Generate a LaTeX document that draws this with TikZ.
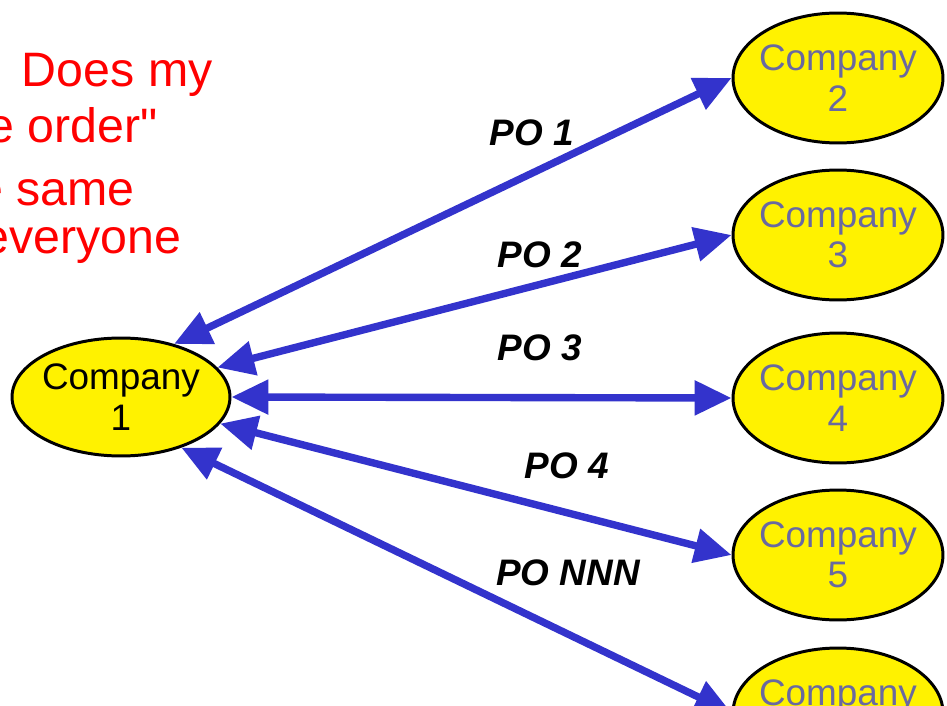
\documentclass[tikz,border=0pt]{standalone}
\usepackage{fontspec}
\setmainfont{Liberation Sans}[Ligatures=TeXOff]
\usetikzlibrary{shapes.geometric,arrows.meta}
\definecolor{poblue}{RGB}{51,51,204}
\definecolor{cotext}{RGB}{105,105,160}

\begin{document}
\begin{tikzpicture}[x=0.02cm,y=-0.02cm]
   \useasboundingbox (0,0) rectangle (947,706);
   \clip (0,0) rectangle (947,706);
   \tikzstyle{company}=[ellipse, draw=black, line width=1.7pt, fill=yellow, inner xsep=-0.16cm, inner ysep=0pt, minimum width=4.2cm, minimum height=2.6cm, align=center, text=cotext, font=\fontsize{21}{23}\selectfont]
   \tikzstyle{po}=[<->, >={Triangle[length=21pt,width=19pt]}, line width=4.2pt, draw=poblue]
   \tikzstyle{poname}=[font=\fontsize{21}{23}\selectfont\bfseries\itshape]
   \tikzstyle{question}=[anchor=base east, text=red, inner sep=0pt, font=\fontsize{27.5}{30}\selectfont]
   % the question, cut off by the left edge
   \node[question] (q1) at (213,87) {Question: Does my};
   \node[question] (q2) at (158,143) {"purchase order"};
   \node[question] (q3) at (135,205) {look the same};
   \node[question] (q4) at (182,253) {to everyone};
   \node[company, minimum width=4.36cm, minimum height=2.36cm, text=black] (c1) at (121,397) {Company\\1};
   \foreach \i/\y in {2/78,3/235,4/398,5/555,6/713} {
       \node[company] (c\i) at (838,\y) {Company\\\i};
   }
   \draw[po] (c1.45) -- (c2.west);
   \draw[po] (c1.17) -- (c3.west);
   \draw[po] (c1.east) -- (c4.west);
   \draw[po] (c1.-15) -- (c5.west);
   \draw[po] (c1.-40) -- (c6.west);
   \node[poname] (po1) at (532,133) {PO 1};
   \node[poname] (po2) at (540,255) {PO 2};
   \node[poname] (po3) at (540,348) {PO 3};
   \node[poname] (po4) at (567,466) {PO 4};
   \node[poname] (ponnn) at (568,573) {PO NNN};
\end{tikzpicture}
\end{document}
